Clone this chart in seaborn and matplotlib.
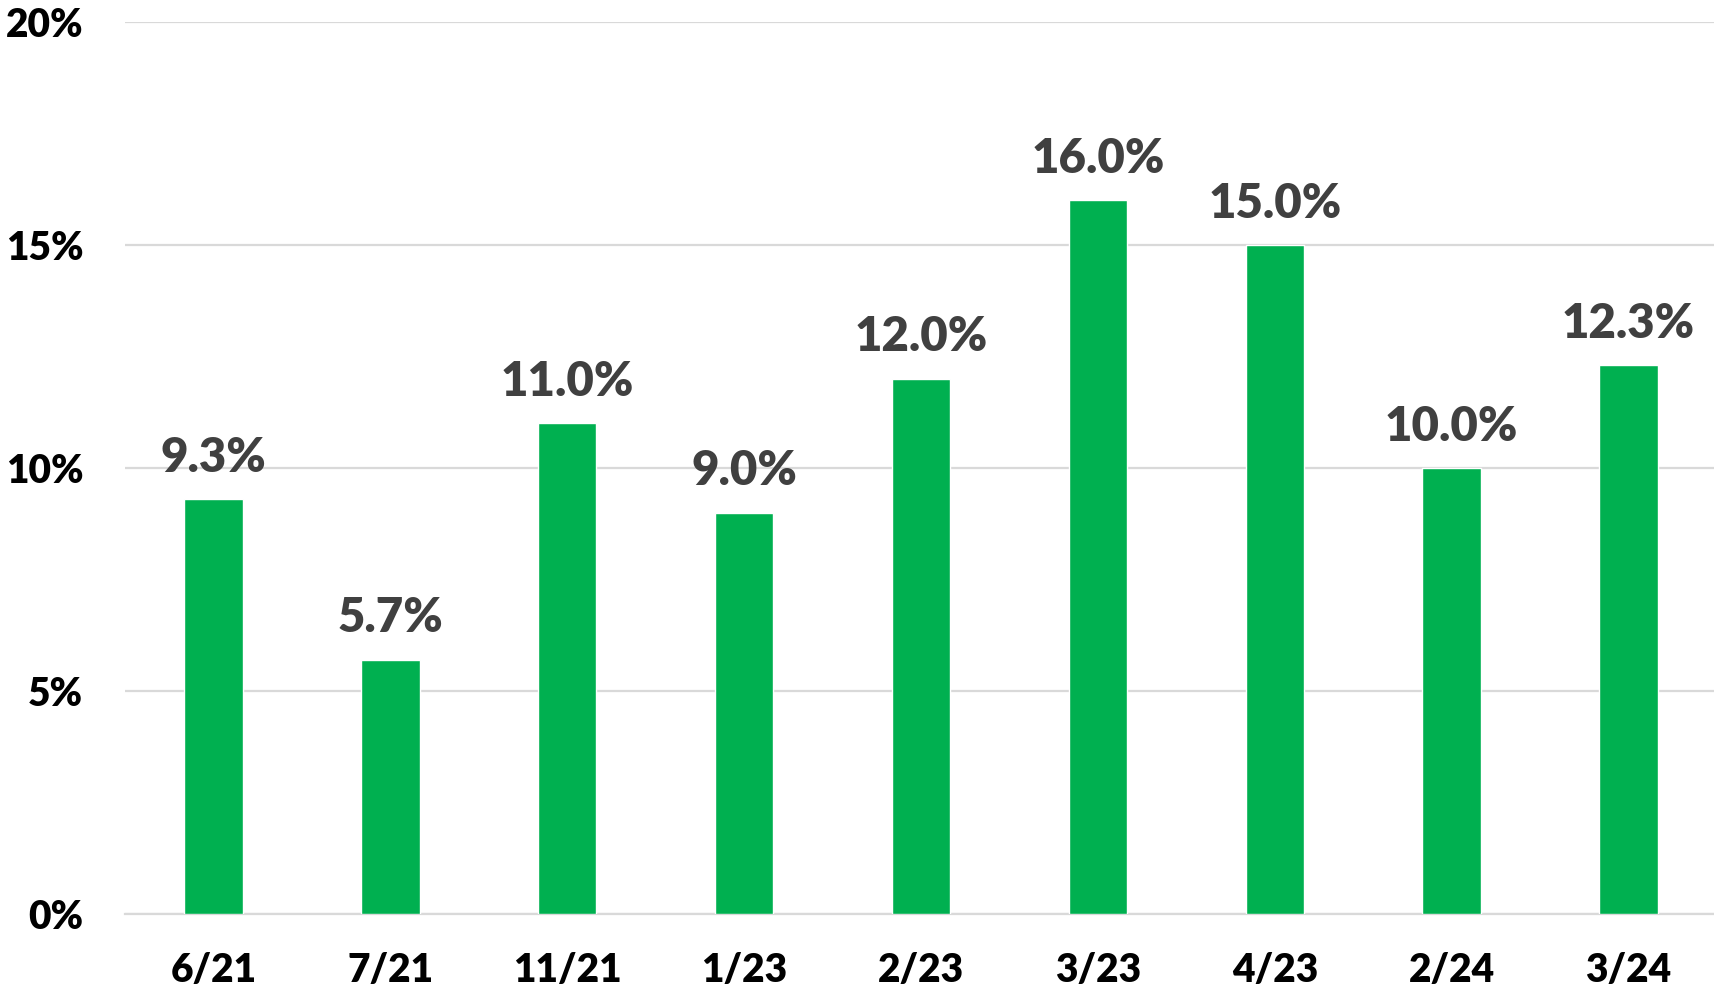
import matplotlib
matplotlib.use("Agg")
import matplotlib.pyplot as plt
import seaborn as sns
import pandas as pd

categories = ["6/21", "7/21", "11/21", "1/23", "2/23", "3/23", "4/23", "2/24", "3/24"]
values = [9.3, 5.7, 11.0, 9.0, 12.0, 16.0, 15.0, 10.0, 12.3]
y_ticks = [0, 5, 10, 15, 20]
y_tick_labels = ["0%", "5%", "10%", "15%", "20%"]

df = pd.DataFrame({"period": categories, "value": values})

sns.set_theme(style="white")
plt.rcParams["font.family"] = ["Lato", "DejaVu Sans"]

fig = plt.figure(figsize=(17.15, 9.9), dpi=100)
ax = fig.add_axes([125 / 1715, 76 / 990, 1592 / 1715, 892 / 990])

sns.barplot(data=df, x="period", y="value", color="#00B050", saturation=1,
            width=0.33, ax=ax, zorder=3)

ax.set_xlim(-0.5, len(categories) - 0.5)
ax.set_ylim(0, 20)
ax.set_yticks(y_ticks)
ax.set_yticklabels(y_tick_labels)
ax.yaxis.grid(True, color="#d9d9d9", linewidth=1.6, zorder=0)
ax.set_axisbelow(True)
for s in ["left", "right", "top"]:
    ax.spines[s].set_visible(False)
ax.spines["bottom"].set_color("#d9d9d9")
ax.spines["bottom"].set_linewidth(1.6)
ax.tick_params(axis="y", length=0, pad=30, labelsize=28, labelcolor="black")
ax.tick_params(axis="x", length=0, pad=27, labelsize=28, labelcolor="black")
for lab in ax.get_yticklabels() + ax.get_xticklabels():
    lab.set_fontweight("heavy")
ax.set_xlabel("")
ax.set_ylabel("")

for i, v in enumerate(values):
    ax.annotate(f"{v:.1f}%", xy=(i, v), xytext=(0, 14), textcoords="offset points",
                ha="center", va="bottom", fontsize=34, fontweight="heavy", color="#404040",
                zorder=5, annotation_clip=False)

fig.savefig("out.png", dpi=100)
